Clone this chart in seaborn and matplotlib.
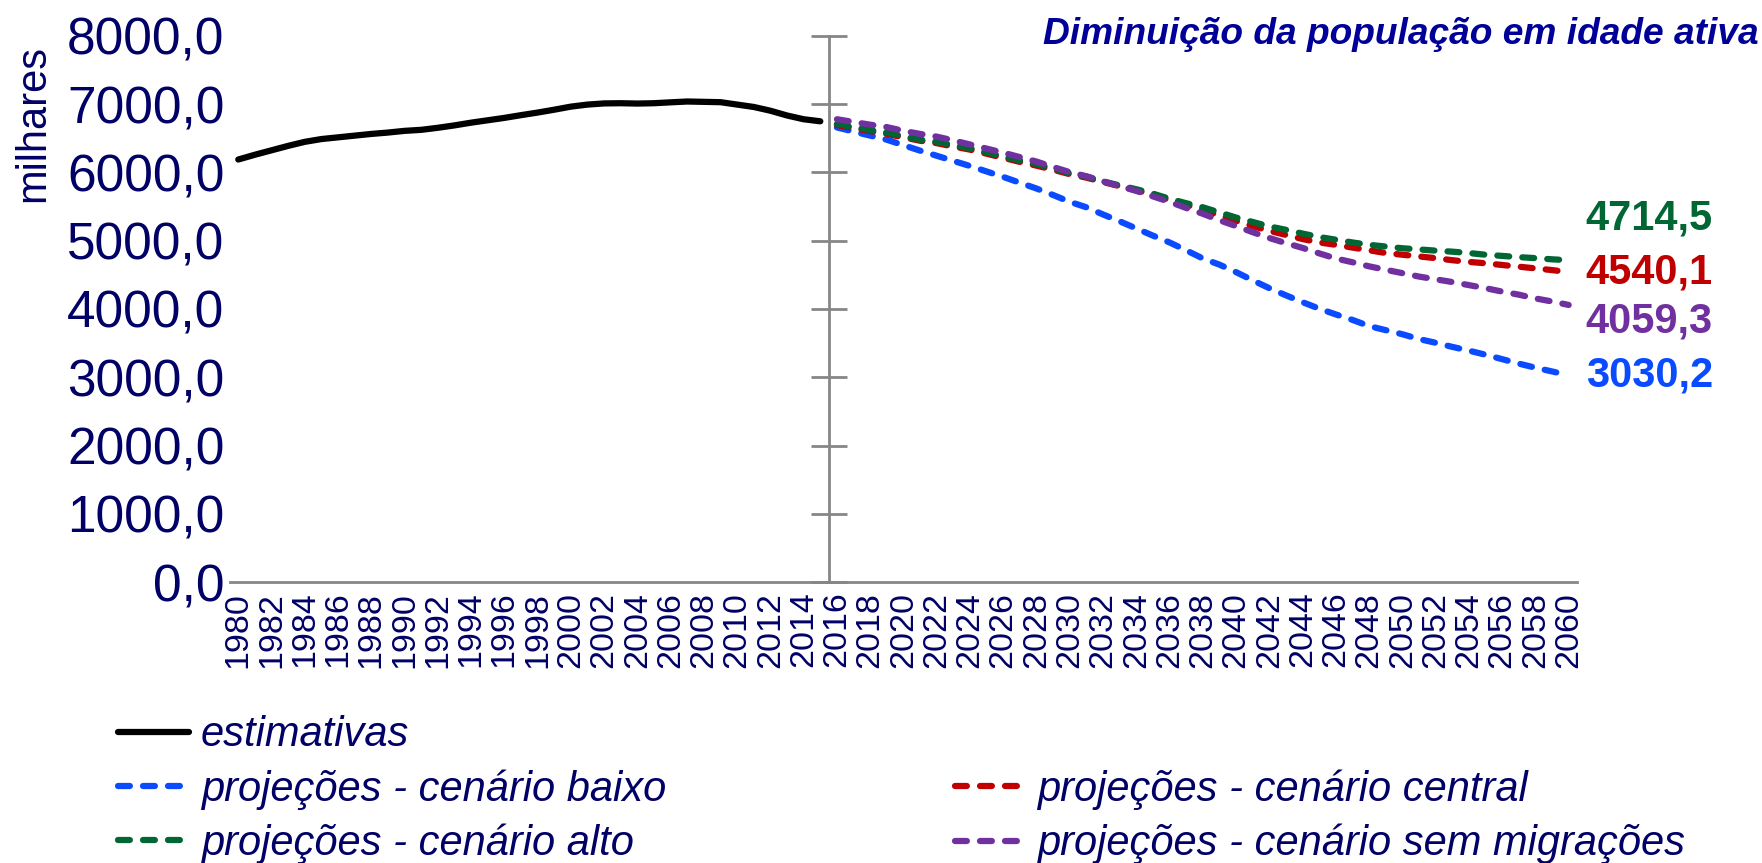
import numpy as np
import pandas as pd
import matplotlib
matplotlib.use("Agg")
import matplotlib.pyplot as plt
import seaborn as sns

# ---------------- data ----------------
est_years = list(range(1980, 2016))
est_values = [6190, 6260, 6325, 6390, 6449, 6490, 6515, 6540, 6565, 6585,
              6610, 6625, 6655, 6690, 6730, 6765, 6800, 6840, 6878, 6920,
              6965, 6995, 7012, 7015, 7010, 7015, 7028, 7040, 7035, 7030,
              6995, 6960, 6905, 6835, 6780, 6750]

proj_years = list(range(2016, 2061))
baixo = [6660, 6600, 6540, 6480, 6400, 6320, 6245, 6170, 6095, 6015,
         5935, 5850, 5765, 5670, 5570, 5490, 5385, 5285, 5180, 5075,
         4975, 4860, 4740, 4650, 4540, 4420, 4305, 4200, 4100, 4005,
         3920, 3840, 3750, 3690, 3630, 3560, 3505, 3445, 3390, 3330,
         3265, 3200, 3140, 3085, 3030.2]
central = [6695, 6650, 6605, 6565, 6515, 6465, 6430, 6380, 6335, 6275,
           6215, 6155, 6100, 6040, 5975, 5925, 5860, 5800, 5740, 5670,
           5595, 5525, 5450, 5370, 5290, 5215, 5145, 5085, 5025, 4975,
           4940, 4900, 4860, 4820, 4795, 4770, 4745, 4715, 4690, 4670,
           4645, 4620, 4595, 4570, 4540.1]
alto = [6710, 6665, 6620, 6585, 6530, 6480, 6450, 6400, 6355, 6295,
        6235, 6175, 6125, 6060, 5990, 5940, 5870, 5810, 5755, 5690,
        5615, 5550, 5490, 5415, 5340, 5275, 5210, 5160, 5105, 5055,
        5015, 4975, 4940, 4915, 4890, 4873, 4855, 4840, 4820, 4795,
        4778, 4760, 4745, 4728, 4714.5]
sem_migr = [6780, 6740, 6700, 6665, 6610, 6565, 6525, 6470, 6410, 6350,
            6290, 6225, 6160, 6080, 6005, 5945, 5870, 5800, 5730, 5650,
            5570, 5480, 5395, 5300, 5215, 5125, 5040, 4965, 4895, 4815,
            4740, 4685, 4625, 4575, 4525, 4475, 4435, 4395, 4350, 4305,
            4255, 4210, 4155, 4110, 4059.3]

labels = ["estimativas",
          "projeções - cenário baixo",
          "projeções - cenário central",
          "projeções - cenário alto",
          "projeções - cenário sem migrações"]
y_ticks = [0, 1000, 2000, 3000, 4000, 5000, 6000, 7000, 8000]
x_label_years = list(range(1980, 2061, 2))
title = "Diminuição da população em idade ativa"
y_label = "milhares"

# ---------------- style ----------------
sns.set_theme(style="white")
plt.rcParams["font.family"] = ["Liberation Sans", "DejaVu Sans"]

NAVY = "#000066"
TITLE_BLUE = "#000099"
GRAY = "#868686"
C_EST = "#000000"
C_BAIXO = "#0A4BFF"
C_CENTRAL = "#C00000"
C_ALTO = "#006633"
C_SEM = "#7030A0"

fig = plt.figure(figsize=(17.62, 8.63), dpi=100)
ax = fig.add_axes([0.1305, 0.3256, 0.7645, 0.6327])

XMIN, XMAX = 1979.5, 2060.5
SPLIT = 2015.5

dash = (1.9, 2.1)
LW = 4.5

df_est = pd.DataFrame({"ano": est_years, "valor": est_values})
sns.lineplot(data=df_est, x="ano", y="valor", ax=ax, color=C_EST,
             label=labels[0], legend=False)

series = [(baixo, C_BAIXO, labels[1]), (central, C_CENTRAL, labels[2]),
          (alto, C_ALTO, labels[3]), (sem_migr, C_SEM, labels[4])]
for vals, col, lab in series:
    d = pd.DataFrame({"ano": proj_years, "valor": vals})
    sns.lineplot(data=d, x="ano", y="valor", ax=ax, color=col,
                 label=lab, legend=False)

lines = ax.get_lines()
for i, line in enumerate(lines):
    line.set_linewidth(LW)
    line.set_solid_capstyle("round")
    if i > 0:
        line.set_dashes(dash)
        line.set_dash_capstyle("round")

# end-value labels
offsets = {"alto": -42, "central": 0, "sem": 17, "baixo": 0}
for vals, col, key in [(alto, C_ALTO, "alto"), (central, C_CENTRAL, "central"),
                       (sem_migr, C_SEM, "sem"), (baixo, C_BAIXO, "baixo")]:
    txt = f"{vals[-1]:.1f}".replace(".", ",")
    ax.annotate(txt, xy=(proj_years[-1], vals[-1]), xytext=(17, -offsets[key]),
                textcoords="offset pixels", ha="left", va="center",
                color=col, fontsize=30, fontweight="bold", annotation_clip=False)

ax.set_xlim(XMIN, XMAX)
ax.set_ylim(0, 8000)
ax.set_xlabel("")
ax.set_ylabel("")

for s in ["top", "right", "left"]:
    ax.spines[s].set_visible(False)
ax.spines["bottom"].set_color(GRAY)
ax.spines["bottom"].set_linewidth(2)

ax.set_xticks(x_label_years)
ax.set_xticklabels([str(y) for y in x_label_years], rotation=90,
                   fontsize=24.5, color=NAVY)
ax.set_xticks(np.arange(XMIN, XMAX + 0.5, 1.0), minor=True)
ax.tick_params(axis="x", which="major", length=0, pad=7)
ax.tick_params(axis="x", which="minor", length=10, width=1.6, color=GRAY,
               direction="out")

ax.set_yticks(y_ticks)
ax.set_yticklabels([f"{v:.1f}".replace(".", ",") for v in y_ticks],
                   fontsize=37, color=NAVY)
ax.tick_params(axis="y", length=0, pad=4)

sec = ax.secondary_yaxis((SPLIT - XMIN) / (XMAX - XMIN))
sec.set_yticks(y_ticks)
sec.tick_params(axis="y", direction="inout", length=26, width=2,
                color=GRAY, labelleft=False, labelright=False)
for s in sec.spines.values():
    s.set_color(GRAY)
    s.set_linewidth(2)

ax.grid(False)

fig.text(0.998, 1 - 34 / 863, title, ha="right", va="center",
         fontsize=26.7, fontweight="bold", style="italic", color=TITLE_BLUE)
fig.text(33 / 1762, 1 - 124 / 863, y_label, rotation=90, ha="center",
         va="center", fontsize=30, color=NAVY)

h_est, h_baixo, h_central, h_alto, h_sem = lines[:5]

leg_kw = dict(frameon=False, handlelength=1.7,
              handletextpad=0.28, labelspacing=0.33, borderpad=0,
              borderaxespad=0, labelcolor=NAVY,
              prop={"style": "italic", "size": 30})
TOP1 = 0.171
PITCH = 54 / 863
leg1 = fig.legend([h_est, h_baixo, h_alto], [labels[0], labels[1], labels[3]],
                  loc="upper left", bbox_to_anchor=(0.067, TOP1), **leg_kw)
leg2 = fig.legend([h_central, h_sem], [labels[2], labels[4]],
                  loc="upper left", bbox_to_anchor=(0.542, TOP1 - PITCH), **leg_kw)

fig.savefig("out.png", dpi=100)
